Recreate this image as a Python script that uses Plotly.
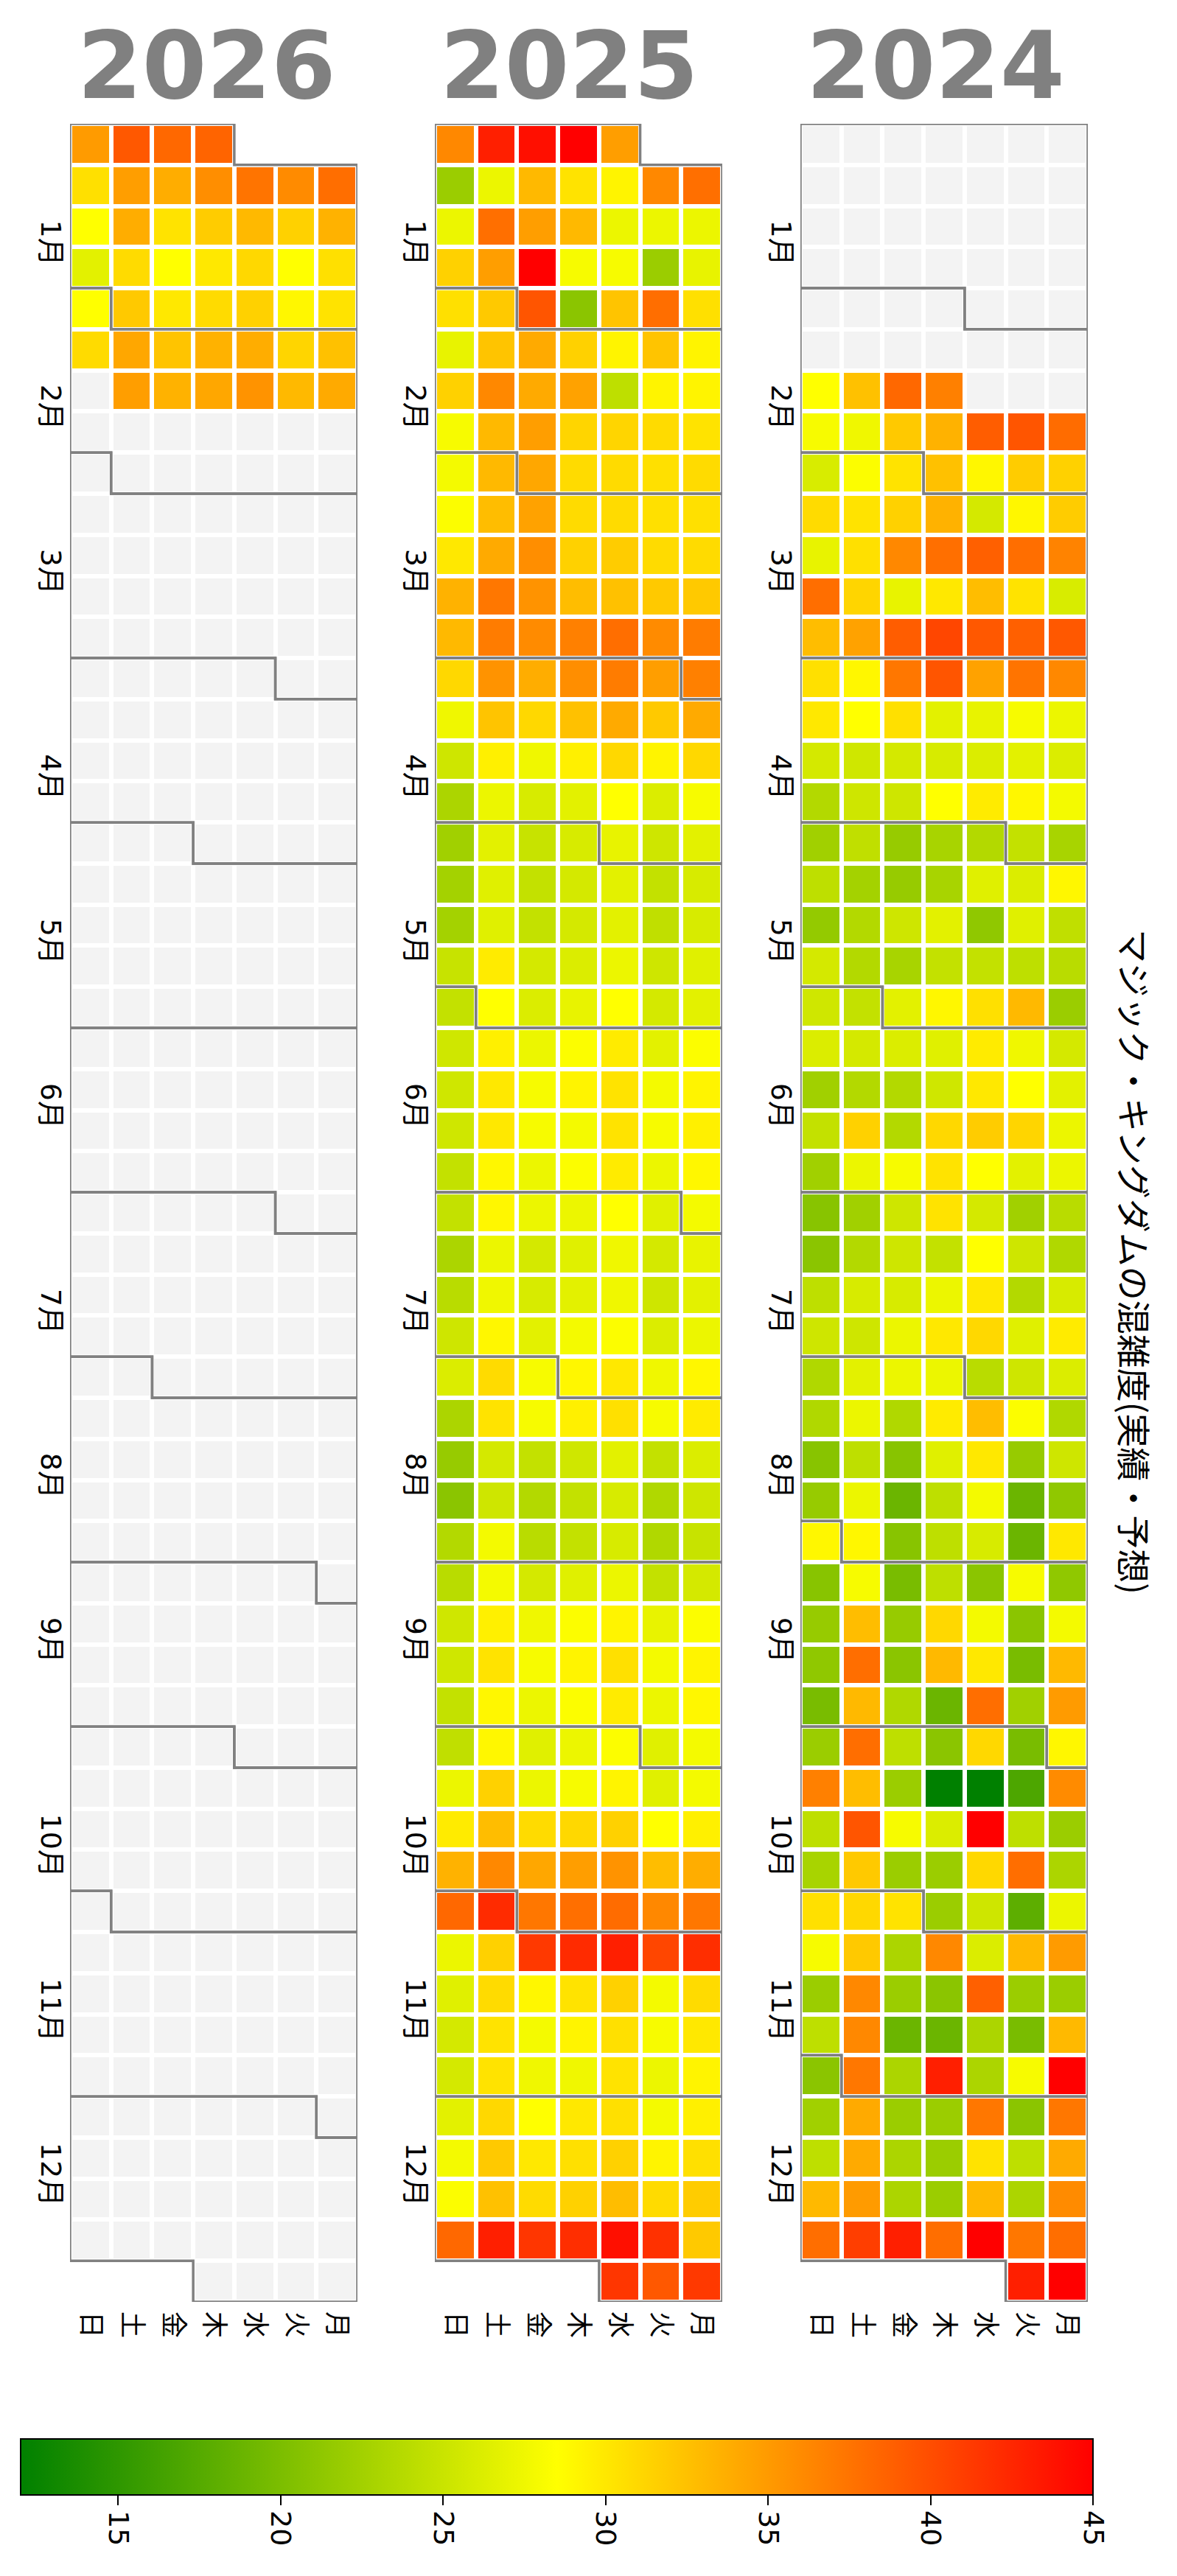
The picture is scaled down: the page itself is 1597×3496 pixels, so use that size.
import datetime as dt
import plotly.graph_objects as go

N = None

years = [2026, 2025, 2024]
weekday_labels = ["日", "土", "金", "木", "水", "火", "月"]
month_labels = ["1月", "2月", "3月", "4月", "5月", "6月", "7月", "8月", "9月", "10月", "11月", "12月"]
month_tick_rows = [2.5, 6.5, 10.5, 15.5, 19.5, 23.5, 28.5, 32.5, 36.5, 41.5, 45.5, 49.5]
colorbar_ticks = [15, 20, 25, 30, 35, 40, 45]
chart_title = "マジック・キングダムの混雑度(実績・予想)"

# weekly rows, columns in display order 日 土 金 木 水 火 月
crowd_2024 = [
    [N, N, N, N, N, N, N],
    [N, N, N, N, N, N, N],
    [N, N, N, N, N, N, N],
    [N, N, N, N, N, N, N],
    [N, N, N, N, N, N, N],
    [N, N, N, N, N, N, N],
    [28.5, 32.5, 38.3, 36.7, N, N, N],
    [28, 27.5, 32, 33.5, 39, 39.5, 38],
    [26, 28.3, 30.3, 32.5, 29, 31.8, 31.5],
    [30.8, 30.3, 31.5, 33.5, 25.7, 29, 31.8],
    [27, 30.5, 36.2, 37.8, 38.8, 37.9, 36.5],
    [37.9, 31.2, 27, 30, 32.8, 30.3, 26],
    [32.8, 34.5, 39, 40.5, 39.3, 38.8, 39.3],
    [30.5, 29, 37.3, 39.5, 34.5, 37.5, 36.2],
    [30, 28.5, 30.5, 26.7, 27, 28, 27.3],
    [25.7, 25.4, 25.7, 25.9, 26.2, 26.7, 26.2],
    [23.6, 25.3, 25.3, 28.5, 29.8, 29, 27.8],
    [22.4, 24.4, 21.8, 22.9, 23.6, 24.6, 22.9],
    [24.3, 22.6, 21.8, 22.9, 26.5, 26.2, 29],
    [21.6, 23.6, 25.3, 26.7, 21.3, 26.5, 24.4],
    [25.7, 23.6, 22.9, 24.6, 24.6, 24.3, 24],
    [25.4, 24.6, 26.7, 29, 30.5, 33, 22],
    [26.2, 25.7, 26.2, 26.5, 29.8, 27.5, 25.7],
    [22.4, 23.6, 23.6, 25.4, 30, 28.5, 26.7],
    [24.6, 31.5, 23.6, 31, 31.8, 31.2, 27.3],
    [22.4, 27.3, 28, 30.3, 28.5, 26.7, 27.3],
    [20.8, 22.4, 25.3, 30.3, 25.7, 22.4, 24],
    [21, 23.6, 25.3, 24.6, 28.5, 25.3, 23.4],
    [24.3, 25.9, 25.9, 27.3, 30, 23.6, 25.9],
    [25.3, 25.3, 27.3, 30, 31, 26.5, 29.8],
    [23.4, 26.7, 27.3, 27.3, 24, 25.3, 26.2],
    [23.4, 27.3, 23.4, 29.8, 32.8, 28.3, 23.4],
    [20.8, 24.3, 20.8, 26.5, 30, 21.8, 25.3],
    [21.8, 27.3, 18.9, 24.3, 27.8, 18.9, 21.3],
    [29, 29, 20.8, 24.3, 25.9, 18.9, 30],
    [20.8, 28, 19.8, 24.3, 21, 28, 21.3],
    [21.8, 32.8, 21.8, 31, 27.8, 21, 27.8],
    [21.3, 37.9, 21, 33, 30, 19.8, 33],
    [19.8, 33, 23.4, 18.9, 37.9, 22.4, 35],
    [22, 37.9, 24.3, 21, 31, 19.8, 29],
    [36.7, 32.8, 22, 12, 12, 17, 36],
    [24.3, 39.5, 28, 26.2, 45, 24.3, 22],
    [22.9, 32, 22, 22, 31, 37.9, 23.1],
    [30.5, 31, 30.3, 22, 25.3, 18, 27.3],
    [28, 32, 23.1, 36.2, 26.2, 33, 35],
    [22, 36.2, 22, 21, 38.8, 22, 22],
    [24.3, 36.2, 18.9, 18.9, 23.1, 19.8, 33],
    [21, 37.3, 23.1, 43, 23.1, 28, 45],
    [22.4, 34, 22, 22, 37.3, 21, 37.3],
    [24.3, 34, 23.1, 22, 30.3, 24.3, 34],
    [33, 35, 23.1, 22, 33, 23.1, 36],
    [37.9, 41, 43, 37.9, 45, 37.3, 37.9],
    [N, N, N, N, N, 43, 45],
]

crowd_2025 = [
    [36.2, 43, 44, 45, 34.8, N, N],
    [22, 27.3, 33, 30.3, 29.2, 36.2, 37.8],
    [27.3, 37.8, 34.8, 33, 27.3, 27.3, 27.3],
    [31.5, 34.8, 45, 28, 28, 22, 27],
    [30.5, 32, 39.5, 21, 32.3, 37.9, 30.5],
    [27, 32.3, 34, 31.5, 29.2, 32.3, 29.2],
    [31.5, 36.2, 34, 34.5, 24.3, 29.2, 29.2],
    [28, 33, 34.8, 31.2, 31.2, 30.8, 30.3],
    [27.8, 33, 34.2, 30.8, 30.8, 30.5, 30.8],
    [28.3, 32.8, 34.5, 30.8, 30.8, 30.5, 30.5],
    [30, 34, 35.8, 31.5, 31.8, 30.8, 30.8],
    [33.5, 37.3, 35.5, 32.8, 32.5, 32, 32],
    [33, 37, 36, 36.7, 37.9, 36, 37],
    [31, 35.5, 33.8, 35.8, 37, 34.8, 36.7],
    [27.5, 32.3, 31, 32.5, 34, 32, 34],
    [25.3, 29.5, 27.5, 29.5, 31, 29.2, 31],
    [23.1, 27.3, 25.9, 26.7, 28.5, 26.2, 28],
    [22.4, 26.7, 24.9, 25.9, 27, 25.3, 26.7],
    [22.6, 26.5, 24.6, 25.7, 26.7, 24.6, 25.9],
    [22.6, 26.5, 24.6, 25.7, 26.7, 24.4, 25.9],
    [24.9, 29.8, 25.7, 26.2, 27.3, 25.3, 26.5],
    [24.6, 28.5, 26.2, 27, 28.5, 25.7, 26.7],
    [25.4, 29.5, 27.3, 28.3, 29.8, 26.7, 28.3],
    [25.4, 30, 28, 29.2, 30.3, 27.8, 29.2],
    [25.4, 30, 28, 27.8, 30.3, 28, 29.5],
    [24.6, 29, 27.3, 28.3, 29.8, 27.3, 29],
    [24.6, 29, 27.3, 27.3, 28.5, 26.5, 27.8],
    [23.1, 27.3, 25.7, 26.5, 27.5, 25.7, 27],
    [24, 27.5, 25.9, 26.7, 27.5, 25.3, 26.7],
    [25.3, 29, 26.7, 27.8, 28.3, 26.2, 27.3],
    [26.2, 30.8, 28, 29, 30, 27.5, 29],
    [23.1, 30.3, 28, 29.5, 30.5, 28, 29.8],
    [21.8, 25.7, 24.6, 25.4, 26.7, 24.6, 26.2],
    [21, 25.3, 23.6, 24.6, 25.9, 23.4, 25.3],
    [23.6, 27.8, 24, 24.6, 25.9, 23.4, 24.9],
    [24, 27.8, 25.7, 26.5, 27.3, 24.6, 25.7],
    [25.4, 29.5, 27.5, 28.3, 29.2, 27, 28.3],
    [25.4, 30.3, 28, 29.2, 30.5, 27.8, 29.2],
    [24.6, 29, 27.3, 28.3, 29.8, 27.3, 29],
    [24.4, 29, 26.5, 27.3, 28.3, 26.5, 27.8],
    [27.3, 31.5, 27.3, 28, 29.2, 26.5, 27.8],
    [29.8, 32.8, 30.8, 31, 31.5, 28.5, 29.5],
    [33.5, 36.2, 34.2, 34.8, 35.5, 32.8, 33.8],
    [38.3, 42.2, 37.3, 37.8, 38, 36.2, 37.3],
    [27.3, 31.5, 41.3, 42.2, 43, 40.5, 42],
    [26.5, 30.8, 29, 30.3, 31.5, 27.8, 30.8],
    [25.7, 30.3, 27.8, 29.2, 30.5, 28, 30],
    [25.7, 30.3, 27.5, 27.5, 30.3, 27.3, 29.2],
    [26.7, 31, 28.5, 30, 30.5, 27.8, 29.5],
    [27.8, 32, 30, 30.5, 31.5, 29.2, 30.5],
    [28.3, 32.5, 30.8, 31.5, 32.8, 30.8, 31.8],
    [38.3, 43, 41.5, 42, 44, 41.8, 32],
    [N, N, N, N, 41.5, 39.3, 41.3],
]

crowd_2026 = [
    [35, 39.3, 38.3, 38.5, N, N, N],
    [30.5, 34.8, 33.8, 35.8, 37.5, 36, 37.9],
    [28.5, 33.8, 30.3, 31.8, 33, 31.5, 33.5],
    [26.7, 30.8, 28.5, 30, 31, 28.5, 30.5],
    [28.5, 32, 30, 30.8, 31.5, 29, 30.3],
    [30.8, 34.2, 32.3, 33.5, 33.8, 31.2, 32.5],
    [N, 34.8, 33.5, 34.2, 35.5, 33, 34],
]

crowd_by_year = {2024: crowd_2024, 2025: crowd_2025, 2026: crowd_2026}

# ---------------------------------------------------------------- layout
W, H = 1597, 3496
panel_left_px = {2026: 95, 2025: 590, 2024: 1086}
panel_w_px = 390
panel_top_px, panel_bottom_px = 168, 3124
title_x_px = {2026: 280, 2025: 772, 2024: 1269}
title_y_px = 89
GRAY_LINE = "#808080"
EMPTY = "#f3f3f3"
FONT = "DejaVu Sans, Noto Sans CJK JP, sans-serif"


def cell_date(year, row, col):
    jan1 = dt.date(year, 1, 1)
    week0 = jan1 - dt.timedelta(days=jan1.weekday())
    return week0 + dt.timedelta(days=7 * row + (6 - col))


def n_weeks(year):
    jan1 = dt.date(year, 1, 1)
    week0 = jan1 - dt.timedelta(days=jan1.weekday())
    return (dt.date(year, 12, 31) - week0).days // 7 + 1


def month_outline(year, month, n_rows):
    cells = set()
    for r in range(n_rows):
        for c in range(7):
            d = cell_date(year, r, c)
            if d.year == year and d.month == month:
                cells.add((r, c))
    edges = []
    for (r, c) in cells:
        if (r - 1, c) not in cells:
            edges.append(((c, r), (c + 1, r)))
        if (r + 1, c) not in cells:
            edges.append(((c, r + 1), (c + 1, r + 1)))
        if (r, c - 1) not in cells:
            edges.append(((c, r), (c, r + 1)))
        if (r, c + 1) not in cells:
            edges.append(((c + 1, r), (c + 1, r + 1)))
    adj = {}
    for a, b in edges:
        adj.setdefault(a, []).append(b)
        adj.setdefault(b, []).append(a)
    start = min(adj)
    pts = [start]
    prev, cur = None, start
    while True:
        nb = adj[cur]
        nxt = nb[0] if nb[0] != prev else nb[1]
        if nxt == start:
            break
        pts.append(nxt)
        prev, cur = cur, nxt
    simple = []
    n = len(pts)
    for i in range(n):
        a, b, c2 = pts[i - 1], pts[i], pts[(i + 1) % n]
        if (b[0] - a[0]) * (c2[1] - b[1]) - (b[1] - a[1]) * (c2[0] - b[0]) != 0:
            simple.append(b)
    return "M " + " L ".join(f"{x - 0.5},{y - 0.5}" for x, y in simple) + " Z"


fig = go.Figure()
shapes = []
layout_axes = {}

for i, year in enumerate(years):
    sfx = "" if i == 0 else str(i + 1)
    xa, ya = "x" + sfx, "y" + sfx
    nr = n_weeks(year)
    data = crowd_by_year[year]
    rows = [list(r) for r in data] + [[None] * 7 for _ in range(nr - len(data))]
    bg = [[0 if cell_date(year, r, c).year == year else None for c in range(7)] for r in range(nr)]

    fig.add_trace(go.Heatmap(
        z=bg, x=list(range(7)), y=list(range(nr)), zmin=0, zmax=1,
        colorscale=[[0, EMPTY], [1, EMPTY]], showscale=False,
        xgap=6, ygap=6, hoverinfo="skip", xaxis=xa, yaxis=ya,
    ))
    fig.add_trace(go.Heatmap(
        z=rows, x=list(range(7)), y=list(range(nr)), coloraxis="coloraxis",
        xgap=6, ygap=6, xaxis=xa, yaxis=ya,
    ))

    for m in range(1, 13):
        shapes.append(dict(type="path", path=month_outline(year, m, nr),
                           xref=xa, yref=ya, line=dict(color=GRAY_LINE, width=3.5),
                           fillcolor="rgba(0,0,0,0)", layer="above"))

    x0 = panel_left_px[year] / W
    x1 = (panel_left_px[year] + panel_w_px) / W
    y0 = 1 - panel_bottom_px / H
    y1 = 1 - panel_top_px / H
    layout_axes["xaxis" + sfx] = dict(
        domain=[x0, x1], anchor=ya, range=[-0.5, 6.5], tickmode="array",
        tickvals=list(range(7)), ticktext=weekday_labels, tickangle=90,
        showgrid=False, zeroline=False, showline=False, ticks="",
        ticklabelstandoff=12,
        tickfont=dict(size=36, color="black", family=FONT),
    )
    layout_axes["yaxis" + sfx] = dict(
        domain=[y0, y1], anchor=xa, range=[nr - 0.5, -0.5], tickmode="array",
        tickvals=month_tick_rows, ticktext=month_labels, tickangle=90,
        showgrid=False, zeroline=False, showline=False, ticks="",
        tickfont=dict(size=38, color="black", family=FONT),
    )

annotations = []
for year in years:
    annotations.append(dict(
        text=f"<b>{year}</b>", x=title_x_px[year] / W, y=1 - title_y_px / H,
        xref="paper", yref="paper", xanchor="center", yanchor="middle",
        showarrow=False, font=dict(size=126, color=GRAY_LINE, family="DejaVu Sans"),
    ))
annotations.append(dict(
    text=chart_title, x=1541 / W, y=1 - 1712 / H, xref="paper", yref="paper",
    xanchor="center", yanchor="middle", textangle=90, showarrow=False,
    font=dict(size=46, color="black", family="Noto Sans CJK JP, DejaVu Sans"),
))

fig.update_layout(
    width=W, height=H, autosize=False,
    margin=dict(l=0, r=0, t=0, b=0),
    paper_bgcolor="white", plot_bgcolor="white",
    font=dict(family=FONT, color="black"),
    shapes=shapes, annotations=annotations,
    coloraxis=dict(
        cmin=12, cmax=45,
        colorscale=[[0, "#008000"], [0.5, "#ffff00"], [1, "#ff0000"]],
        colorbar=dict(
            orientation="h", x=(28 + 1483) / 2 / W, xanchor="center",
            y=1 - 3310 / H, yanchor="top", len=(1483 - 28) / W, lenmode="fraction",
            thickness=76, thicknessmode="pixels", outlinewidth=2, outlinecolor="black",
            ticks="outside", ticklen=13, tickwidth=2, tickcolor="black",
            tickmode="array", tickvals=colorbar_ticks, tickangle=90,
            tickfont=dict(size=38, color="black", family=FONT), xpad=0, ypad=0,
        ),
    ),
    **layout_axes,
)

fig.write_html("out.html", config={"displayModeBar": False},
               post_script="document.body.style.margin='0';")
